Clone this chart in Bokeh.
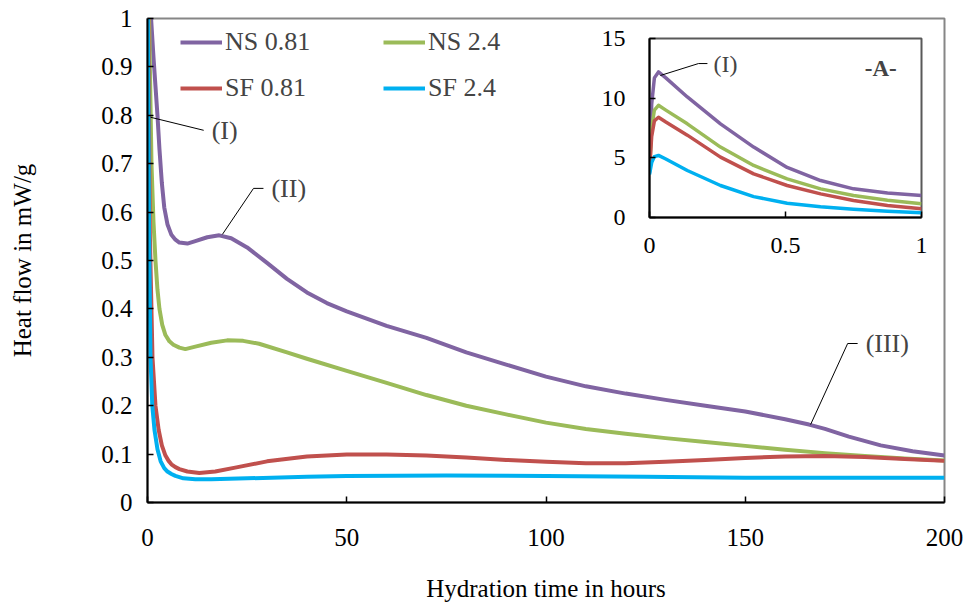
from bokeh.plotting import figure
from bokeh.models import Range1d, FixedTicker, NumeralTickFormatter, Legend, LegendItem, Label
from bokeh.embed import file_html
from bokeh.resources import INLINE

FONT = "Liberation Serif"

# ---- Main chart: heat flow (mW/g) against hydration time (h) ----
t_ns081 = [0, 0.9, 1.5, 2.0, 2.5, 3.0, 3.6, 4.2, 5, 6, 7, 8, 10, 12, 15, 18, 21, 25, 30, 35,
           40, 45, 50, 60, 70, 80, 90, 100, 110, 120, 130, 140, 150, 160, 166, 170, 176, 184,
           192, 200]
q_ns081 = [3.7, 1.0, 0.92, 0.86, 0.8, 0.73, 0.66, 0.61, 0.575, 0.553, 0.543, 0.537, 0.535, 0.54,
           0.548, 0.552, 0.546, 0.527, 0.495, 0.462, 0.434, 0.412, 0.395, 0.365, 0.34, 0.31,
           0.285, 0.26, 0.24, 0.225, 0.212, 0.2, 0.188, 0.172, 0.161, 0.152, 0.136, 0.118,
           0.106, 0.097]

t_ns24 = [0, 0.4, 1, 1.5, 2, 2.5, 3, 3.7, 4.5, 5.5, 6.5, 8, 9.5, 12, 16, 20, 24, 28, 35, 40,
          50, 60, 70, 80, 90, 100, 110, 120, 130, 140, 150, 160, 170, 180, 190, 200]
q_ns24 = [3.8, 1.0, 0.7, 0.58, 0.5, 0.44, 0.4, 0.367, 0.346, 0.333, 0.326, 0.32, 0.317, 0.322,
          0.33, 0.335, 0.334, 0.328, 0.31, 0.297, 0.272, 0.247, 0.222, 0.2, 0.182, 0.165, 0.152,
          0.142, 0.133, 0.125, 0.117, 0.109, 0.102, 0.096, 0.091, 0.087]

t_sf081 = [0, 0.2, 0.6, 1.25, 2, 2.8, 3.6, 4.5, 5.3, 6, 7, 8, 10, 13, 17, 22, 30, 40, 50, 60,
           70, 80, 90, 100, 110, 120, 130, 140, 150, 160, 170, 180, 190, 200]
q_sf081 = [3.9, 1.0, 0.55, 0.3, 0.2, 0.15, 0.118, 0.097, 0.086, 0.079, 0.073, 0.069, 0.064,
           0.061, 0.064, 0.072, 0.085, 0.095, 0.099, 0.099, 0.097, 0.093, 0.088, 0.084, 0.081,
           0.081, 0.084, 0.088, 0.092, 0.095, 0.096, 0.094, 0.09, 0.086]

t_sf24 = [0, 0.1, 0.4, 0.75, 1.2, 1.75, 2.5, 3.3, 4.2, 5, 6, 7, 9, 12, 16, 25, 40, 50, 75,
          100, 125, 150, 175, 200]
q_sf24 = [3.6, 1.0, 0.55, 0.3, 0.2, 0.15, 0.11, 0.085, 0.071, 0.064, 0.059, 0.055, 0.05,
          0.048, 0.048, 0.05, 0.053, 0.055, 0.056, 0.055, 0.053, 0.051, 0.051, 0.051]

x_ticks = [0, 50, 100, 150, 200]
y_ticks = [0, 0.1, 0.2, 0.3, 0.4, 0.5, 0.6, 0.7, 0.8, 0.9, 1]

# ---- Inset (-A-): first hour ----
t_first_hour = [0, 0.008, 0.018, 0.033, 0.06, 0.139, 0.261, 0.383, 0.506, 0.629, 0.75, 0.875, 1.0]
q1_ns081 = [3.7, 9.5, 11.7, 12.2, 11.7, 10.1, 7.85, 5.9, 4.2, 3.1, 2.4, 2.05, 1.84]
q1_ns24 = [3.8, 7.5, 9.0, 9.4, 9.0, 7.85, 5.9, 4.36, 3.24, 2.4, 1.84, 1.45, 1.15]
q1_sf081 = [3.9, 6.8, 8.1, 8.4, 8.0, 6.9, 5.06, 3.66, 2.68, 1.98, 1.42, 1.0, 0.73]
q1_sf24 = [3.6, 4.6, 5.1, 5.2, 4.9, 3.94, 2.68, 1.75, 1.2, 0.9, 0.7, 0.52, 0.4]
inset_x_ticks = [0, 0.5, 1]
inset_y_ticks = [0, 5, 10, 15]

labels = ["NS 0.81", "NS 2.4", "SF 0.81", "SF 2.4"]
colors = ["#8064A2", "#9BBB59", "#C0504D", "#00B0F0"]

# Callout leader lines (data coordinates) and their tags
lead_I = ([0.75, 14.1], [0.796, 0.769])
lead_II = ([18.8, 26.6, 29.1], [0.554, 0.649, 0.649])
lead_III = ([166.4, 175.7, 178.2], [0.161, 0.3285, 0.3285])
lead_inset = ([0.04, 0.18, 0.213], [11.9, 12.9, 12.9])


def style_axes(fig, size):
    for ax in (fig.xaxis[0], fig.yaxis[0]):
        ax.axis_line_color = "black"
        ax.axis_line_width = 2
        ax.major_tick_line_color = "black"
        ax.major_tick_line_width = 1.5
        ax.major_tick_in = 6
        ax.major_tick_out = 0
        ax.minor_tick_line_color = None
        ax.major_label_text_font = FONT
        ax.major_label_text_font_size = size
        ax.major_label_text_color = "black"
        ax.axis_label_text_font = FONT
        ax.axis_label_text_font_size = size
        ax.axis_label_text_font_style = "normal"
        ax.axis_label_text_color = "black"
    fig.xgrid.visible = False
    fig.ygrid.visible = False


p = figure(width=968, height=604, x_range=Range1d(0, 200), y_range=Range1d(0, 1),
           output_backend="svg", toolbar_location=None,
           min_border_left=147, min_border_right=24, min_border_top=18, min_border_bottom=102,
           outline_line_color="#868686", outline_line_width=2,
           styles={"position": "absolute", "left": "0px", "top": "0px"})
style_axes(p, "25px")
p.xaxis.ticker = FixedTicker(ticks=x_ticks)
p.yaxis.ticker = FixedTicker(ticks=y_ticks)
p.yaxis.formatter = NumeralTickFormatter(format="0.[0]")
p.xaxis.axis_label = "Hydration time in hours"
p.yaxis.axis_label = "Heat flow in mW/g"
p.xaxis.major_label_standoff = 26
p.yaxis.major_label_standoff = 15
p.xaxis.axis_label_standoff = 26
p.yaxis.axis_label_standoff = 62

series = [(t_ns081, q_ns081), (t_ns24, q_ns24), (t_sf081, q_sf081), (t_sf24, q_sf24)]
rends = []
for (t, q), c in zip(series, colors):
    rends.append(p.line(t, q, line_color=c, line_width=4, line_join="round"))

legend = Legend(
    items=[LegendItem(label=labels[0], renderers=[rends[0]]),
           LegendItem(label=labels[2], renderers=[rends[2]]),
           LegendItem(label=labels[1], renderers=[rends[1]]),
           LegendItem(label=labels[3], renderers=[rends[3]])],
    ncols=2, location=(33, 396), glyph_width=42, glyph_height=36, label_height=36,
    label_width=148, spacing=10, padding=0, margin=0, label_standoff=3,
    border_line_alpha=0, background_fill_alpha=0,
    label_text_font=FONT, label_text_font_size="26px")
p.add_layout(legend)

for xs, ys in (lead_I, lead_II, lead_III):
    p.line(xs, ys, line_color="black", line_width=1)

for txt, (xs, ys) in (("(I)", lead_I), ("(II)", lead_II), ("(III)", lead_III)):
    p.add_layout(Label(x=xs[-1], y=ys[-1], x_offset=8, text=txt, text_font=FONT,
                       text_font_size="26px", text_baseline="middle", text_align="left"))

# ---- Inset figure ----
ins = figure(frame_width=272, frame_height=179, x_range=Range1d(0, 1), y_range=Range1d(0, 15),
             output_backend="svg", toolbar_location=None,
             min_border_left=74, min_border_right=19, min_border_top=20, min_border_bottom=50,
             outline_line_color="#595959", outline_line_width=2,
             background_fill_alpha=0, border_fill_alpha=0,
             styles={"position": "absolute", "left": "575px", "top": "18px"})
style_axes(ins, "24px")
ins.xaxis.ticker = FixedTicker(ticks=inset_x_ticks)
ins.yaxis.ticker = FixedTicker(ticks=inset_y_ticks)
ins.xaxis.formatter = NumeralTickFormatter(format="0.[0]")
ins.xaxis.major_label_standoff = 20
ins.yaxis.major_label_standoff = 24

for q, c in zip([q1_ns081, q1_ns24, q1_sf081, q1_sf24], colors):
    ins.line(t_first_hour, q, line_color=c, line_width=3.5, line_join="round")

ins.line(lead_inset[0], lead_inset[1], line_color="black", line_width=1)
ins.add_layout(Label(x=lead_inset[0][-1], y=lead_inset[1][-1], x_offset=6, text="(I)",
                     text_font=FONT, text_font_size="24px", text_baseline="middle"))
ins.add_layout(Label(x=0.85, y=12.5, text="-A-", text_font=FONT, text_font_size="23px",
                     text_font_style="bold", text_baseline="middle", text_align="center"))

open("out.html", "w").write(file_html([p, ins], INLINE))
